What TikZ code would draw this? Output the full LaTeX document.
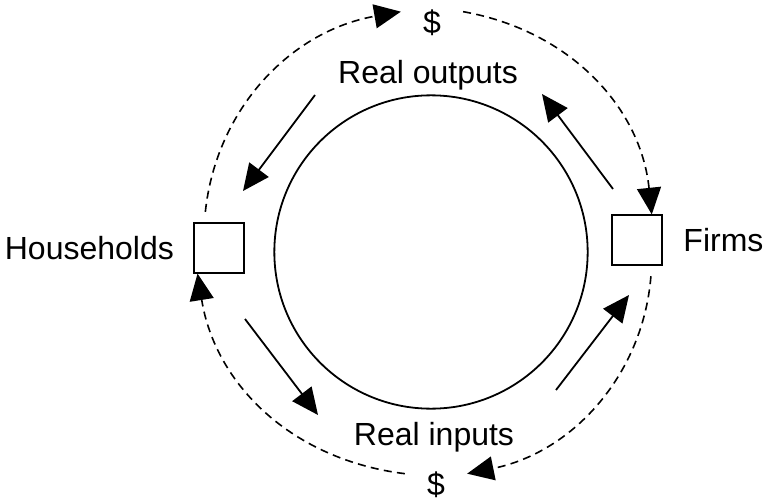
\documentclass[tikz,border=0pt]{standalone}
\usepackage{fontspec}
\setmainfont{Liberation Sans}
\usetikzlibrary{positioning,arrows.meta}

\begin{document}
\begin{tikzpicture}[x=0.75pt, y=-0.75pt, line width=1.35pt,
        >={Triangle[length=20pt, width=18pt]},
        every node/.style={font=\fontsize{24}{29}\selectfont},
        agent/.style={rectangle, draw, minimum size=37pt, inner sep=0pt},
        money/.style={dash pattern=on 6pt off 4pt, line width=1.2pt}]
    \useasboundingbox (0,0) rectangle (763,503);

    \node[circle, draw, minimum size=235pt, inner sep=0pt] (econ) at (431,252) {};
    \node[agent] (hh) at (219,248) {};
    \node[agent] (firm) at (637,240) {};
    \node[inner sep=0pt, left=14pt of hh] (hhlabel) {Households};
    \node[inner sep=0pt, right=15pt of firm] (firmlabel) {Firms};
    \node (outputs) at (428,75) {Real outputs};
    \node (inputs) at (434,437) {Real inputs};
    \node[inner xsep=16pt] (paytop) at (432,23) {\$};
    \node[inner xsep=16pt] (paybot) at (436,485) {\$};

    % goods and factors
    \coordinate (o1) at (613,189); \coordinate (o2) at (542,94);
    \coordinate (o3) at (315,95);  \coordinate (o4) at (243,191);
    \coordinate (i1) at (245,319); \coordinate (i2) at (318,415);
    \coordinate (i3) at (556,390); \coordinate (i4) at (629,295);
    \path
        (o1) edge[->] (o2)
        (o3) edge[->] (o4)
        (i1) edge[->] (i2)
        (i3) edge[->] (i4)
        ;

    % money flows
    \path
        (hh.120) edge[money, ->, bend left=37, shorten <=8pt] (paytop.160)
        (paytop.20) edge[money, ->, bend left=37] (firm.60)
        (firm.300) edge[money, ->, bend left=37, shorten <=8pt] (paybot.20)
        (paybot.160) edge[money, ->, bend left=37] (hh.230)
        ;
\end{tikzpicture}
\end{document}
